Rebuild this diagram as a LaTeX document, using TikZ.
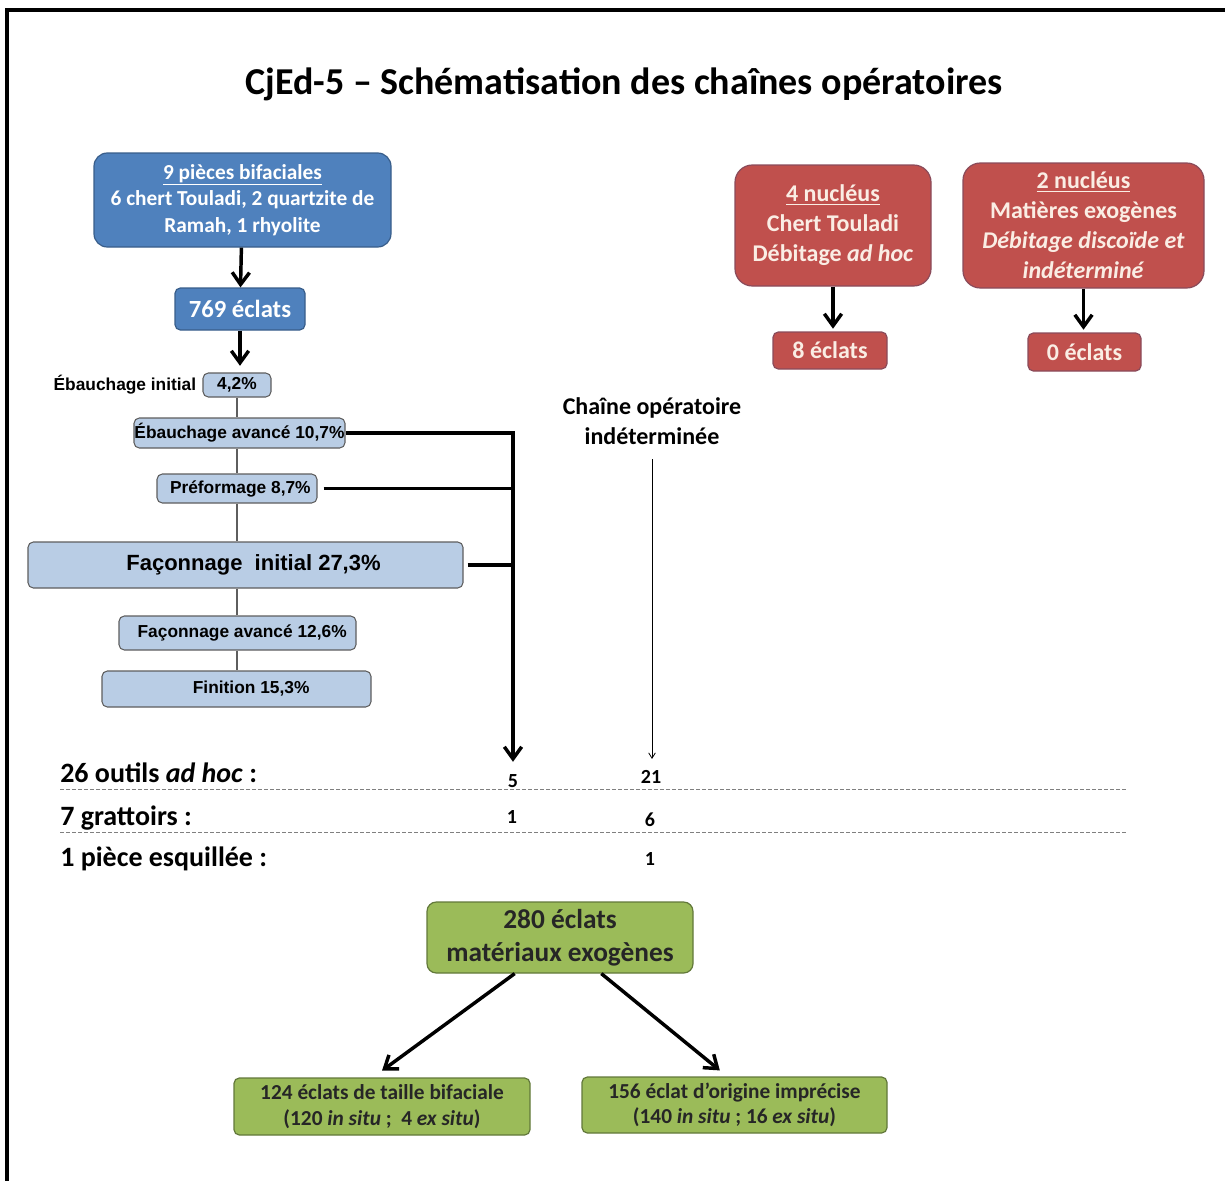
\documentclass[tikz,border=0pt]{standalone}
\usepackage{fontspec}
\setmainfont{Carlito}
\newfontfamily\arialfont{Liberation Sans}
\usetikzlibrary{arrows.meta,positioning}

\definecolor{bifblue}{HTML}{4F81BD}
\definecolor{bifedge}{HTML}{385D8A}
\definecolor{stagefill}{HTML}{B9CDE5}
\definecolor{stageedge}{HTML}{5E5E5E}
\definecolor{nucred}{HTML}{C0504D}
\definecolor{nucedge}{HTML}{8A4B5A}
\definecolor{nuctext}{HTML}{FAEDE4}
\definecolor{exogreen}{HTML}{9BBB59}
\definecolor{exoedge}{HTML}{62783A}

\begin{document}
\begin{tikzpicture}[x=0.75pt, y=-0.75pt,
        box/.style={rectangle, draw, rounded corners=4pt, align=center, inner sep=0pt, line width=0.9pt},
        bifbox/.style={box, fill=bifblue, draw=bifedge, text=white, font=\bfseries\fontsize{16}{20}\selectfont},
        stage/.style={box, fill=stagefill, draw=stageedge, line width=0.8pt, font=\arialfont\bfseries\fontsize{13}{15}\selectfont},
        nucbox/.style={box, fill=nucred, draw=nucedge, text=nuctext, font=\bfseries\fontsize{18}{22.5}\selectfont},
        exobox/.style={box, fill=exogreen, draw=exoedge, text=black!85, font=\bfseries\fontsize{16}{19}\selectfont},
        arrow/.style={-{Straight Barb[length=9pt,width=13pt]}, line width=2.6pt},
        link/.style={line width=2.6pt},
        thinarrow/.style={-{Straight Barb[length=4pt,width=5pt]}, line width=0.6pt},
        row/.style={font=\bfseries\fontsize{21}{25}\selectfont, inner sep=0pt},
        count/.style={font=\bfseries\fontsize{15}{18}\selectfont, inner sep=1pt},
        sep/.style={dash pattern=on 3pt off 1.5pt, gray, line width=0.7pt}
    ]
        \useasboundingbox (0,0) rectangle (1225,1181);
        \draw[line width=2.4pt] (7,1181) -- (7,10) -- (1225,10);

        % Title
        \node[font=\bfseries\fontsize{28.5}{34}\selectfont, anchor=base] (title) at (624,95)
            {CjEd-5 – Schématisation des chaînes opératoires};

        % Bifacial pieces
        \node[bifbox, rounded corners=10pt, minimum width=222.75pt, minimum height=70.5pt] (bif) at (242.5,200)
            {\underline{9 pièces bifaciales}\\6 chert Touladi, 2 quartzite de\\Ramah, 1 rhyolite};
        \node[bifbox, font=\bfseries\fontsize{18.5}{22}\selectfont, minimum width=97.5pt, minimum height=31.5pt] (ecl) at (240,309) {769 éclats};
        \draw[arrow] (bif) -- (ecl);

        % Reduction stages
        \node[stage, minimum width=51pt, minimum height=18pt] (ini) at (237,385) {4,2\%};
        \node[left=4.5pt of ini, font=\arialfont\bfseries\fontsize{13}{15}\selectfont, inner sep=0pt] (inilab) {Ébauchage initial};
        \node[stage, minimum width=158.25pt, minimum height=22.5pt] (eba) at (239.5,433) {Ébauchage avancé 10,7\%};
        \node[stage, minimum width=120pt, minimum height=21.75pt] (pre) at (237,488.5) {\hspace{5pt}Préformage 8,7\%};
        \node[stage, font=\arialfont\bfseries\fontsize{16.5}{19}\selectfont, minimum width=326.25pt, minimum height=34.5pt] (fai) at (245.5,565)
            {\hspace{12pt}Façonnage\ \ initial 27,3\%};
        \node[stage, minimum width=177.75pt, minimum height=25.5pt] (fav) at (237.5,633) {\hspace{7pt}Façonnage avancé 12,6\%};
        \node[stage, minimum width=201.75pt, minimum height=27pt] (fin) at (236.5,689) {\hspace{22pt}Finition 15,3\%};
        \draw[arrow, shorten >=5pt] (ecl) -- (ecl |- ini.north);
        \foreach \a/\b in {ini/eba, eba/pre, pre/fai, fai/fav, fav/fin}
            \draw[line width=0.8pt, stageedge] (ini.south |- \a.south) -- (ini.south |- \b.north);

        % Tool counts
        \node[row, anchor=base west] (outils) at (60,782) {26 outils \textit{ad hoc} :};
        \node[row, anchor=base west] (gratt) at (60,825) {7 grattoirs :};
        \node[row, anchor=base west] (esq) at (60,866) {1 pièce esquillée :};
        \node[count, anchor=base] (n5) at (513,787) {5};
        \node[count, anchor=base] (n21) at (651,783) {21};
        \node[count, anchor=base] (n1) at (512,823) {1};
        \node[count, anchor=base] (n6) at (650,826) {6};
        \node[count, anchor=base] (n1b) at (650,865) {1};
        \draw[sep] (60,789) -- (1127,789);
        \draw[sep] (60,832) -- (1127,832);

        % Stages feeding the tools
        \draw[arrow, shorten >=8pt] (eba.east) -| (n5.north);
        \draw[link] ([xshift=4.5pt]pre.east) -- (pre.east -| n5.north);
        \draw[link] ([xshift=3pt]fai.east) -- (fai.east -| n5.north);

        % Undetermined chain
        \node[font=\bfseries\fontsize{18}{22.5}\selectfont, align=center, inner sep=0pt] (indet) at (652,421)
            {Chaîne opératoire\\indéterminée};
        \draw[thinarrow, shorten <=11pt, shorten >=7pt] (indet.south) -- (indet.south |- n21.north);

        % Cores
        \node[nucbox, rounded corners=13pt, minimum width=147pt, minimum height=90.75pt] (nuc4) at (833,225.5)
            {\underline{4 nucléus}\\Chert Touladi\\Débitage \textit{ad hoc}};
        \node[nucbox, minimum width=85.5pt, minimum height=27.75pt] (ecl8) at (830,350.5) {8 éclats};
        \draw[arrow, shorten >=2pt] (nuc4) -- (nuc4 |- ecl8.north);

        \node[nucbox, rounded corners=13pt, minimum width=180.75pt, minimum height=93.75pt] (nuc2) at (1083.5,225.5)
            {\underline{2 nucléus}\\Matières exogènes\\\textit{Débitage discoïde et}\\\textit{indéterminé}};
        \node[nucbox, minimum width=84.75pt, minimum height=28.5pt] (ecl0) at (1084.5,352) {0 éclats};
        \draw[arrow, shorten >=2pt] (nuc2) -- (nuc2 |- ecl0.north);

        % Exogenous flakes
        \node[exobox, rounded corners=7pt, font=\bfseries\fontsize{20.5}{25}\selectfont, minimum width=199.5pt, minimum height=53.25pt] (exo) at (560,937.5)
            {280 éclats\\matériaux exogènes};
        \node[exobox, minimum width=222pt, minimum height=42.75pt] (bifsize) at (382,1106.5)
            {124 éclats de taille bifaciale\\(120 \textit{in situ} ;\ \ 4 \textit{ex situ})};
        \node[exobox, minimum width=228.75pt, minimum height=42pt] (origin) at (734.5,1105)
            {156 éclat d’origine imprécise\\(140 \textit{in situ} ; 16 \textit{ex situ})};
        \draw[arrow] ([xshift=-34pt]exo.south) -- ([yshift=5pt]bifsize.north);
        \draw[arrow] ([xshift=31pt]exo.south) -- ([xshift=-11pt,yshift=4.5pt]origin.north);
    \end{tikzpicture}
\end{document}
